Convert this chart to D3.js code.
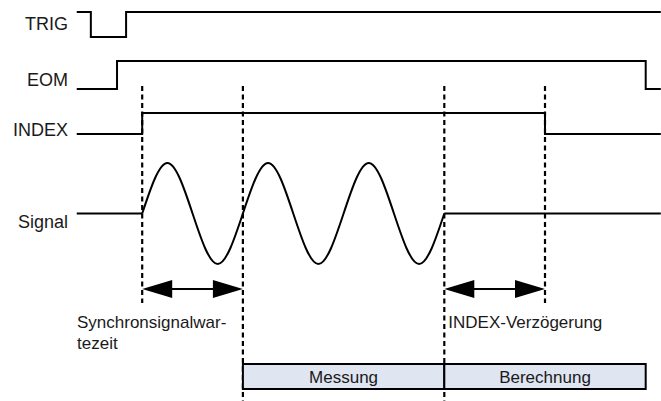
<!DOCTYPE html>
<html>
<head>
  <meta charset="utf-8">
  <title></title>
<style type="text/css">
    body { margin: 0; background: #fff; }
    text {
      font-family: "Liberation Sans", Arial, sans-serif;
      font-size: 17px;
      fill: #1a1a1a;
    }
    text.name { font-size: 18px; }
</style>
</head>
<script src="https://cdn.jsdelivr.net/npm/d3@7"></script>
<body>
<script>
  var w = 661;
  var h = 401;

  // signal names and their edges: [time, level]
  var signalNames = ["TRIG", "EOM", "INDEX", "Signal"];
  var trigSteps = [[0.35, 1], [0.49, 0], [0.84, 1], [6.15, 1]];
  var eomSteps = [[0.35, 0], [0.75, 1], [6.0, 0], [6.15, 0]];
  var indexSteps = [[0.35, 0], [1, 1], [5, 0], [6.15, 0]];

  // analog signal: flat parts and the oscillation (quarter period samples)
  var signalFlat = [[[0.35, 0], [1, 0]], [[4, 0], [6.15, 0]]];
  var signalWave = [[1, 0], [1.25, 1], [1.5, 0], [1.75, -1], [2, 0],
                    [2.25, 1], [2.5, 0], [2.75, -1], [3, 0],
                    [3.25, 1], [3.5, 0], [3.75, -1], [4, 0]];

  // timing marks
  var markTimes = [1, 2, 4, 5];
  var markLong = [false, true, true, false];

  var spans = [[1, 2], [4, 5]];
  var spanLabels = [["Synchronsignalwar-", "tezeit"], ["INDEX-Verzögerung"]];

  var phases = [[2, 4], [4, 6]];
  var phaseLabels = ["Messung", "Berechnung"];

  var xScale = d3.scaleLinear().domain([0, 5]).range([41.5, 545]);

  // row layout: y for high/low levels and label baseline
  var rows = [
    { hi: 12, lo: 37, label: 30 },
    { hi: 61, lo: 89, label: 86 },
    { hi: 113, lo: 134, label: 136 },
    { hi: 163, lo: 264, label: 228 }
  ];
  var yScales = rows.map(function (r) {
    return d3.scaleLinear().domain([0, 1]).range([r.lo, r.hi]);
  });
  var ySignal = d3.scaleLinear().domain([-1, 1]).range([264, 163]);

  var svg = d3.select("body").append("svg")
              .attr("width", w)
              .attr("height", h);

  // dashed markers
  svg.selectAll("line.mark")
     .data(markTimes)
     .enter().append("line")
     .attr("class", "mark")
     .attr("x1", function (d) { return xScale(d); })
     .attr("x2", function (d) { return xScale(d); })
     .attr("y1", 86)
     .attr("y2", function (d, i) { return markLong[i] ? h : 303; })
     .attr("stroke", "#000")
     .attr("stroke-width", 2.2)
     .attr("stroke-dasharray", "5,3.5");

  // digital lines
  var stepData = [trigSteps, eomSteps, indexSteps];
  stepData.forEach(function (steps, i) {
    var y = yScales[i];
    var line = d3.line()
                 .x(function (d) { return xScale(d[0]); })
                 .y(function (d) { return y(d[1]); })
                 .curve(d3.curveStepAfter);
    svg.append("path")
       .datum(steps)
       .attr("d", line)
       .attr("fill", "none")
       .attr("stroke", "#000")
       .attr("stroke-width", 2);
  });

  // analog signal
  var flatLine = d3.line()
                   .x(function (d) { return xScale(d[0]); })
                   .y(function (d) { return ySignal(d[1]); });
  signalFlat.forEach(function (seg) {
    svg.append("path")
       .datum(seg)
       .attr("d", flatLine)
       .attr("fill", "none")
       .attr("stroke", "#000")
       .attr("stroke-width", 2);
  });
  svg.append("path")
     .datum(signalWave)
     .attr("d", flatLine.curve(d3.curveNatural))
     .attr("fill", "none")
     .attr("stroke", "#000")
     .attr("stroke-width", 2);

  // row labels
  svg.selectAll("text.name")
     .data(signalNames)
     .enter().append("text")
     .attr("class", "name")
     .attr("x", 68)
     .attr("y", function (d, i) { return rows[i].label; })
     .attr("text-anchor", "end")
     .text(function (d) { return d; });

  // double arrows
  var arrowY = 289, headLen = 30, headW = 9;
  spans.forEach(function (s) {
    var a = xScale(s[0]), b = xScale(s[1]);
    svg.append("line")
       .attr("x1", a + headLen - 2).attr("x2", b - headLen + 2)
       .attr("y1", arrowY).attr("y2", arrowY)
       .attr("stroke", "#000").attr("stroke-width", 2);
    var p = d3.path();
    p.moveTo(a, arrowY); p.lineTo(a + headLen, arrowY - headW); p.lineTo(a + headLen, arrowY + headW); p.closePath();
    p.moveTo(b, arrowY); p.lineTo(b - headLen, arrowY - headW); p.lineTo(b - headLen, arrowY + headW); p.closePath();
    svg.append("path").attr("d", p.toString()).attr("fill", "#000");
  });

  // span labels
  var spanLabelX = [77, xScale(4) + 4];
  spanLabels.forEach(function (lines, i) {
    var t = svg.append("text")
               .attr("x", spanLabelX[i])
               .attr("y", 328);
    lines.forEach(function (l, j) {
      t.append("tspan")
       .attr("x", spanLabelX[i])
       .attr("dy", j == 0 ? 0 : 20.5)
       .text(l);
    });
  });

  // phase boxes
  svg.selectAll("rect.phase")
     .data(phases)
     .enter().append("rect")
     .attr("class", "phase")
     .attr("x", function (d) { return xScale(d[0]); })
     .attr("width", function (d) { return xScale(d[1]) - xScale(d[0]); })
     .attr("y", 364)
     .attr("height", 25)
     .attr("fill", "#dfe5f1")
     .attr("stroke", "#000")
     .attr("stroke-width", 2);

  svg.selectAll("text.phase")
     .data(phaseLabels)
     .enter().append("text")
     .attr("class", "phase")
     .attr("x", function (d, i) { return (xScale(phases[i][0]) + xScale(phases[i][1])) / 2; })
     .attr("y", 383)
     .attr("text-anchor", "middle")
     .text(function (d) { return d; });
</script>
</body>
</html>
